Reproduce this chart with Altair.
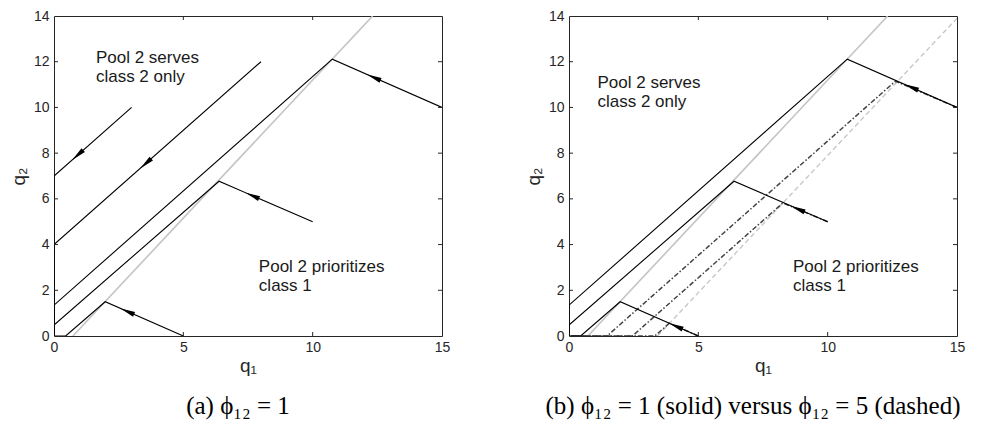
import math
import altair as alt
import pandas as pd

W, H = 388, 320

X_TICKS = [0, 5, 10, 15]
Y_TICKS = [0, 2, 4, 6, 8, 10, 12, 14]

# switching curve (phi12 = 1, solid grey) and (phi12 = 5, dashed grey)
BOUND_SOLID_Q1 = [0.73, 12.32]
BOUND_SOLID_Q2 = [0.0, 14.0]
BOUND_DASH_Q1 = [3.42, 15.0]
BOUND_DASH_Q2 = [0.0, 13.9]

# phi12 = 1 trajectories
A1_Q1 = [3.0, 0.0, 0.0]
A1_Q2 = [10.0, 7.0, 0.0]
A2_Q1 = [8.0, 0.0, 0.0]
A2_Q2 = [12.0, 4.0, 0.0]
A3_Q1 = [15.0, 10.76, 0.0, 0.0]
A3_Q2 = [10.0, 12.11, 1.35, 0.0]
A4_Q1 = [10.0, 6.38, 0.0, 0.0]
A4_Q2 = [5.0, 6.77, 0.48, 0.0]
A5_Q1 = [5.0, 1.98, 0.45, 0.0]
A5_Q2 = [0.0, 1.5, 0.0, 0.0]

# phi12 = 5 trajectories (dashed)
B1_Q1 = [15.0, 12.62, 1.47, 0.0]
B1_Q2 = [10.0, 11.15, 0.0, 0.0]
B2_Q1 = [10.0, 8.27, 2.45, 0.0]
B2_Q2 = [5.0, 5.82, 0.0, 0.0]
B3_Q1 = [5.0, 3.88, 3.32, 0.0]
B3_Q2 = [0.0, 0.56, 0.0, 0.0]

# arrows: position and direction of motion
ARROWS_A_Q1 = [0.97, 3.6, 12.43, 7.73, 2.9]
ARROWS_A_Q2 = [7.97, 7.6, 11.28, 6.11, 1.04]
ARROWS_A_D1 = [-1, -1, -1, -1, -1]
ARROWS_A_D2 = [-1, -1, 0.498, 0.489, 0.497]

ARROWS_B_Q1 = [13.3, 8.91, 4.2]
ARROWS_B_Q2 = [10.85, 5.53, 0.4]
ARROWS_B_D1 = [-1, -1, -1]
ARROWS_B_D2 = [0.498, 0.489, 0.497]

NOTES_A_TEXT = ["Pool 2 serves", "class 2 only", "Pool 2 prioritizes", "class 1"]
NOTES_A_Q1 = [1.62, 1.62, 7.92, 7.92]
NOTES_A_Q2 = [11.93, 11.1, 2.82, 1.97]
NOTES_B_TEXT = ["Pool 2 serves", "class 2 only", "Pool 2 prioritizes", "class 1"]
NOTES_B_Q1 = [1.1, 1.1, 8.66, 8.66]
NOTES_B_Q2 = [10.83, 10.0, 2.82, 1.97]

CAPTION_A = "(a)  ϕ₁₂ = 1"
CAPTION_B = "(b)  ϕ₁₂ = 1 (solid) versus ϕ₁₂ = 5 (dashed)"

AX = "#262626"
FONT = "Liberation Sans"


def traj_df(trajs):
    rows = []
    for tid, (xs, ys) in trajs.items():
        for i, (a, b) in enumerate(zip(xs, ys)):
            rows.append({"id": tid, "idx": i, "q1": a, "q2": b})
    return pd.DataFrame(rows)


def xenc():
    return alt.X("q1:Q", scale=alt.Scale(domain=[0, 15], nice=False, zero=False),
                 axis=alt.Axis(values=X_TICKS, title="q₁", grid=False, ticks=False, domain=False,
                               labelFlush=False, labelFont=FONT, labelFontSize=14, labelColor=AX,
                               labelPadding=4, titleFont=FONT, titleFontSize=19,
                               titleFontWeight="normal", titleColor=AX, titlePadding=2))


def yenc():
    return alt.Y("q2:Q", scale=alt.Scale(domain=[0, 14], nice=False, zero=False),
                 axis=alt.Axis(values=Y_TICKS, title="q₂", grid=False, ticks=False, domain=False,
                               labelFlush=False, labelFont=FONT, labelFontSize=14, labelColor=AX,
                               labelPadding=5, titleFont=FONT, titleFontSize=19,
                               titleFontWeight="normal", titleColor=AX, titlePadding=5))


def arrow_df(q1, q2, d1, d2):
    sx, sy = W / 15.0, H / 14.0
    rows = []
    for a, b, u, v in zip(q1, q2, d1, d2):
        px, py = u * sx, -v * sy
        ang = math.degrees(math.atan2(px, -py)) % 360
        rows.append({"q1": a, "q2": b, "ang": ang})
    return pd.DataFrame(rows)


def panel(solid, dashed, arrows, notes, caption, cap_dx):
    layers = []
    layers.append(alt.Chart(pd.DataFrame({"q1": BOUND_SOLID_Q1, "q2": BOUND_SOLID_Q2}))
                  .mark_line(color="#c4c4c4", strokeWidth=1.6, clip=True)
                  .encode(x=xenc(), y=yenc()))
    if dashed:
        layers.append(alt.Chart(pd.DataFrame({"q1": BOUND_DASH_Q1, "q2": BOUND_DASH_Q2}))
                      .mark_line(color="#c8c8c8", strokeWidth=1.4, strokeDash=[5, 3], clip=True)
                      .encode(x=xenc(), y=yenc()))
        layers.append(alt.Chart(traj_df(dashed))
                      .mark_line(color="#444444", strokeWidth=1.5, strokeDash=[5, 2, 1.5, 2], clip=True)
                      .encode(x=xenc(), y=yenc(), detail="id:N", order="idx:Q"))
    layers.append(alt.Chart(traj_df(solid))
                  .mark_line(color="black", strokeWidth=1.1, clip=True)
                  .encode(x=xenc(), y=yenc(), detail="id:N", order="idx:Q"))
    layers.append(alt.Chart(arrow_df(*arrows))
                  .mark_point(shape="M0,-1L0.28,0.6L-0.28,0.6Z", filled=True, color="black",
                              size=340, opacity=1)
                  .encode(x=xenc(), y=yenc(), angle=alt.Angle("ang:Q", scale=None)))
    layers.append(alt.Chart(pd.DataFrame({"t": notes[0], "q1": notes[1], "q2": notes[2]}))
                  .mark_text(align="left", baseline="alphabetic", font=FONT, fontSize=17,
                             color="#1a1a1a")
                  .encode(x=xenc(), y=yenc(), text="t:N"))
    xt = pd.DataFrame({"q1": X_TICKS[1:-1]})
    yt = pd.DataFrame({"q2": Y_TICKS[1:-1]})
    tick = dict(color=AX, strokeWidth=1)
    layers.append(alt.Chart(xt).mark_rule(**tick).encode(x=xenc(), y=alt.value(H), y2=alt.value(H - 4)))
    layers.append(alt.Chart(xt).mark_rule(**tick).encode(x=xenc(), y=alt.value(0), y2=alt.value(4)))
    layers.append(alt.Chart(yt).mark_rule(**tick).encode(y=yenc(), x=alt.value(0), x2=alt.value(4)))
    layers.append(alt.Chart(yt).mark_rule(**tick).encode(y=yenc(), x=alt.value(W), x2=alt.value(W - 4)))
    return alt.layer(*layers).properties(
        width=W, height=H,
        title=alt.TitleParams(text=caption, orient="bottom", anchor="middle", font="Liberation Serif",
                              fontSize=25, fontWeight="normal", color="black", offset=19,
                              dx=cap_dx))


left = panel(
    {"a1": (A1_Q1, A1_Q2), "a2": (A2_Q1, A2_Q2), "a3": (A3_Q1, A3_Q2),
     "a4": (A4_Q1, A4_Q2), "a5": (A5_Q1, A5_Q2)},
    None,
    (ARROWS_A_Q1, ARROWS_A_Q2, ARROWS_A_D1, ARROWS_A_D2),
    (NOTES_A_TEXT, NOTES_A_Q1, NOTES_A_Q2),
    CAPTION_A, -10)

right = panel(
    {"a3": (A3_Q1, A3_Q2), "a4": (A4_Q1, A4_Q2), "a5": (A5_Q1, A5_Q2)},
    {"b1": (B1_Q1, B1_Q2), "b2": (B2_Q1, B2_Q2), "b3": (B3_Q1, B3_Q2)},
    (ARROWS_B_Q1, ARROWS_B_Q2, ARROWS_B_D1, ARROWS_B_D2),
    (NOTES_B_TEXT, NOTES_B_Q1, NOTES_B_Q2),
    CAPTION_B, -10)

chart = (alt.hconcat(left, right, spacing=72)
         .properties(padding={"left": 0, "top": 0, "right": 0, "bottom": 0})
         .configure_view(stroke=AX, strokeWidth=1))

chart.save("out.html", embed_options={"renderer": "svg", "actions": False})
